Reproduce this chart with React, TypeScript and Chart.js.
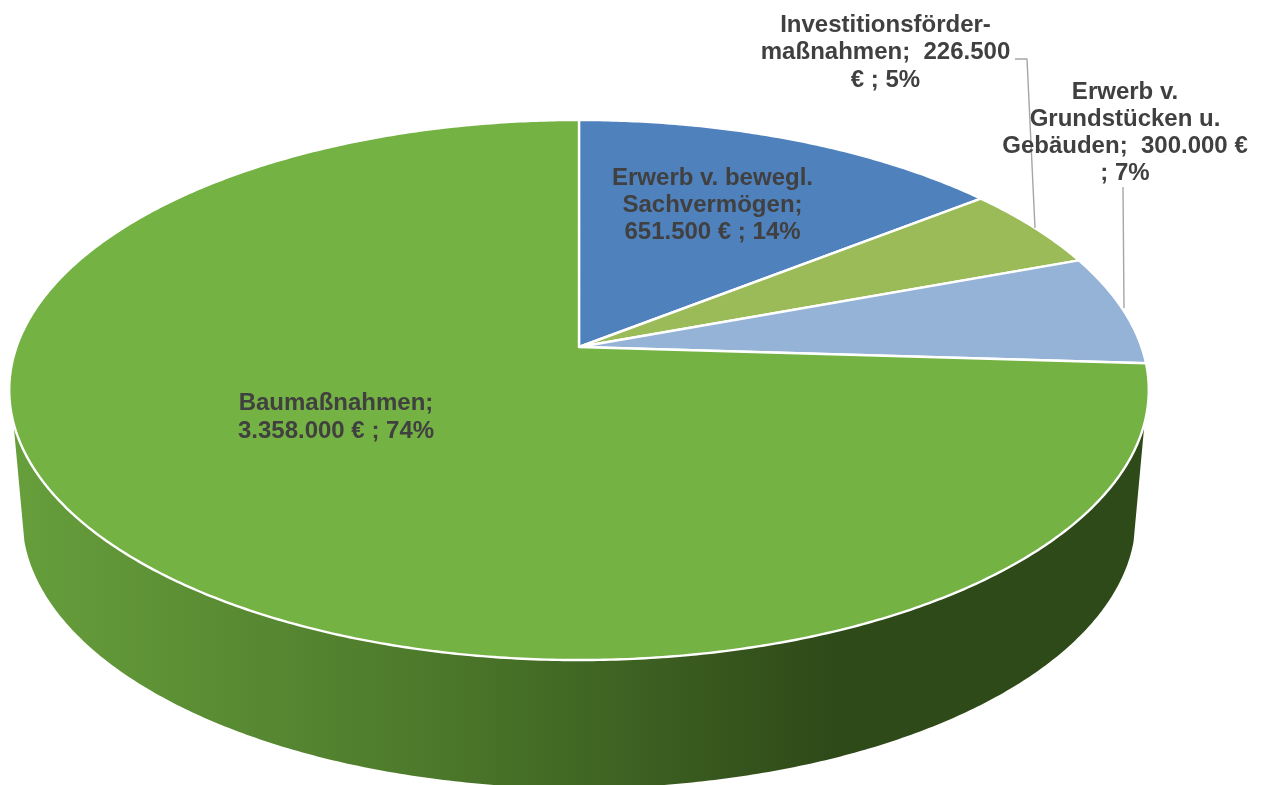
import React, { useEffect, useRef } from "react";
import { Chart, registerables } from "chart.js";

Chart.register(...registerables);

const categories = [
  "Erwerb v. bewegl. Sachvermögen",
  "Investitionsfördermaßnahmen",
  "Erwerb v. Grundstücken u. Gebäuden",
  "Baumaßnahmen",
];
const amounts = [651500, 226500, 300000, 3358000];
const sliceColors = ["#4f81bd", "#9bbb59", "#95b3d7", "#74b243"];

const labelBewegl = ["Erwerb v. bewegl.", "Sachvermögen;", "651.500 € ; 14%"];
const labelInvest = ["Investitionsförder-", "maßnahmen;  226.500", "€ ; 5%"];
const labelGrund = ["Erwerb v.", "Grundstücken u.", "Gebäuden;  300.000 €", "; 7%"];
const labelBau = ["Baumaßnahmen;", "3.358.000 € ; 74%"];

const W = 1265;
const H = 785;
const APEX_X = 579;
const APEX_Y = 347;
const SX = 562.5;
const SY = 263.2;
const K = 0.1593;
const BASE_SCALE_X = 0.977;
const BASE_SCALE_Y = 1.0;
const BASE_Y = 475;
const DEG = Math.PI / 180;

// perspective projection of a unit-disc point at canvas angle a
function rim(a: number, cx: number, cy: number, sx = 1, sy = 1, baseY: number | null = null) {
  const u = Math.cos(a);
  const v = -Math.sin(a);
  const w = 1 + K * v;
  const x = cx + (sx * SX * u) / w;
  const y = (baseY ?? cy) - (sy * SY * v) / w;
  return [x, y];
}

function sweep(a0: number, a1: number, f: (a: number) => number[], ctx: CanvasRenderingContext2D) {
  const n = Math.max(2, Math.ceil(Math.abs(a1 - a0) / (0.5 * DEG)));
  for (let i = 0; i <= n; i++) {
    const p = f(a0 + ((a1 - a0) * i) / n);
    ctx.lineTo(p[0], p[1]);
  }
}

const perspectivePie = {
  id: "perspectivePie",
  beforeDatasetDraw(chart: any, args: any) {
    const ctx: CanvasRenderingContext2D = chart.ctx;
    const arcs = args.meta.data;
    const colors = chart.data.datasets[args.index].backgroundColor;

    // front wall
    const grad = ctx.createLinearGradient(10, 0, 830, 0);
    grad.addColorStop(0, "#679f3c");
    grad.addColorStop(0.5, "#4d7a2b");
    grad.addColorStop(1, "#2f4a19");
    arcs.forEach((arc: any) => {
      const { x, y, startAngle, endAngle } = arc.getProps(["x", "y", "startAngle", "endAngle"], true);
      const r0 = Math.max(startAngle, 16 * DEG);
      const r1 = Math.min(endAngle, 164 * DEG);
      const b0 = Math.max(startAngle, 14 * DEG);
      const b1 = Math.min(endAngle, 166 * DEG);
      if (r1 <= r0) return;
      ctx.beginPath();
      sweep(r0, r1, (a) => rim(a, x, y), ctx);
      sweep(b1, b0, (a) => rim(a, x, y, BASE_SCALE_X, BASE_SCALE_Y, BASE_Y), ctx);
      ctx.closePath();
      ctx.fillStyle = grad;
      ctx.fill();
    });

    // top face
    arcs.forEach((arc: any, i: number) => {
      const { x, y, startAngle, endAngle } = arc.getProps(["x", "y", "startAngle", "endAngle"], true);
      ctx.beginPath();
      ctx.moveTo(x, y);
      sweep(startAngle, endAngle, (a) => rim(a, x, y), ctx);
      ctx.closePath();
      ctx.fillStyle = colors[i];
      ctx.fill();
      ctx.strokeStyle = "#ffffff";
      ctx.lineWidth = 2.4;
      ctx.lineJoin = "round";
      ctx.stroke();
    });
    return false;
  },
  afterDatasetsDraw(chart: any) {
    const ctx: CanvasRenderingContext2D = chart.ctx;
    ctx.save();
    ctx.strokeStyle = "#a6a6a6";
    ctx.lineWidth = 1.4;
    ctx.beginPath();
    ctx.moveTo(1015, 59);
    ctx.lineTo(1027, 59);
    ctx.lineTo(1035, 228);
    ctx.moveTo(1123, 187);
    ctx.lineTo(1124, 308);
    ctx.stroke();

    ctx.font = "bold 24px 'Liberation Sans', Arial, sans-serif";
    ctx.fillStyle = "#404040";
    ctx.textAlign = "center";
    ctx.textBaseline = "middle";
    const block = (lines: string[], cx: number, y0: number, lh: number) =>
      lines.forEach((t, i) => ctx.fillText(t, cx, y0 + i * lh));
    block(labelBewegl, 712.5, 178, 27.2);
    block(labelInvest, 885.5, 25.5, 27.3);
    block(labelGrund, 1125, 92, 27.2);
    block(labelBau, 336, 403, 28);
    ctx.restore();
  },
};

export default function App() {
  const ref = useRef<HTMLCanvasElement>(null);
  useEffect(() => {
    const chart = new Chart(ref.current!, {
      type: "pie",
      data: {
        labels: categories,
        datasets: [{ data: amounts, backgroundColor: sliceColors, borderWidth: 0 }],
      },
      options: {
        animation: false,
        responsive: false,
        devicePixelRatio: 1,
        layout: { padding: { left: 0, top: 0, right: W - 2 * APEX_X, bottom: H - 2 * APEX_Y } },
        plugins: { legend: { display: false }, tooltip: { enabled: false } },
      },
      plugins: [perspectivePie],
    } as any);
    return () => chart.destroy();
  }, []);
  return (
    <div style={{ position: "fixed", left: 0, top: 0, width: W, height: H, background: "#fff", overflow: "hidden" }}>
      <canvas ref={ref} width={W} height={H} style={{ display: "block" }} />
    </div>
  );
}
